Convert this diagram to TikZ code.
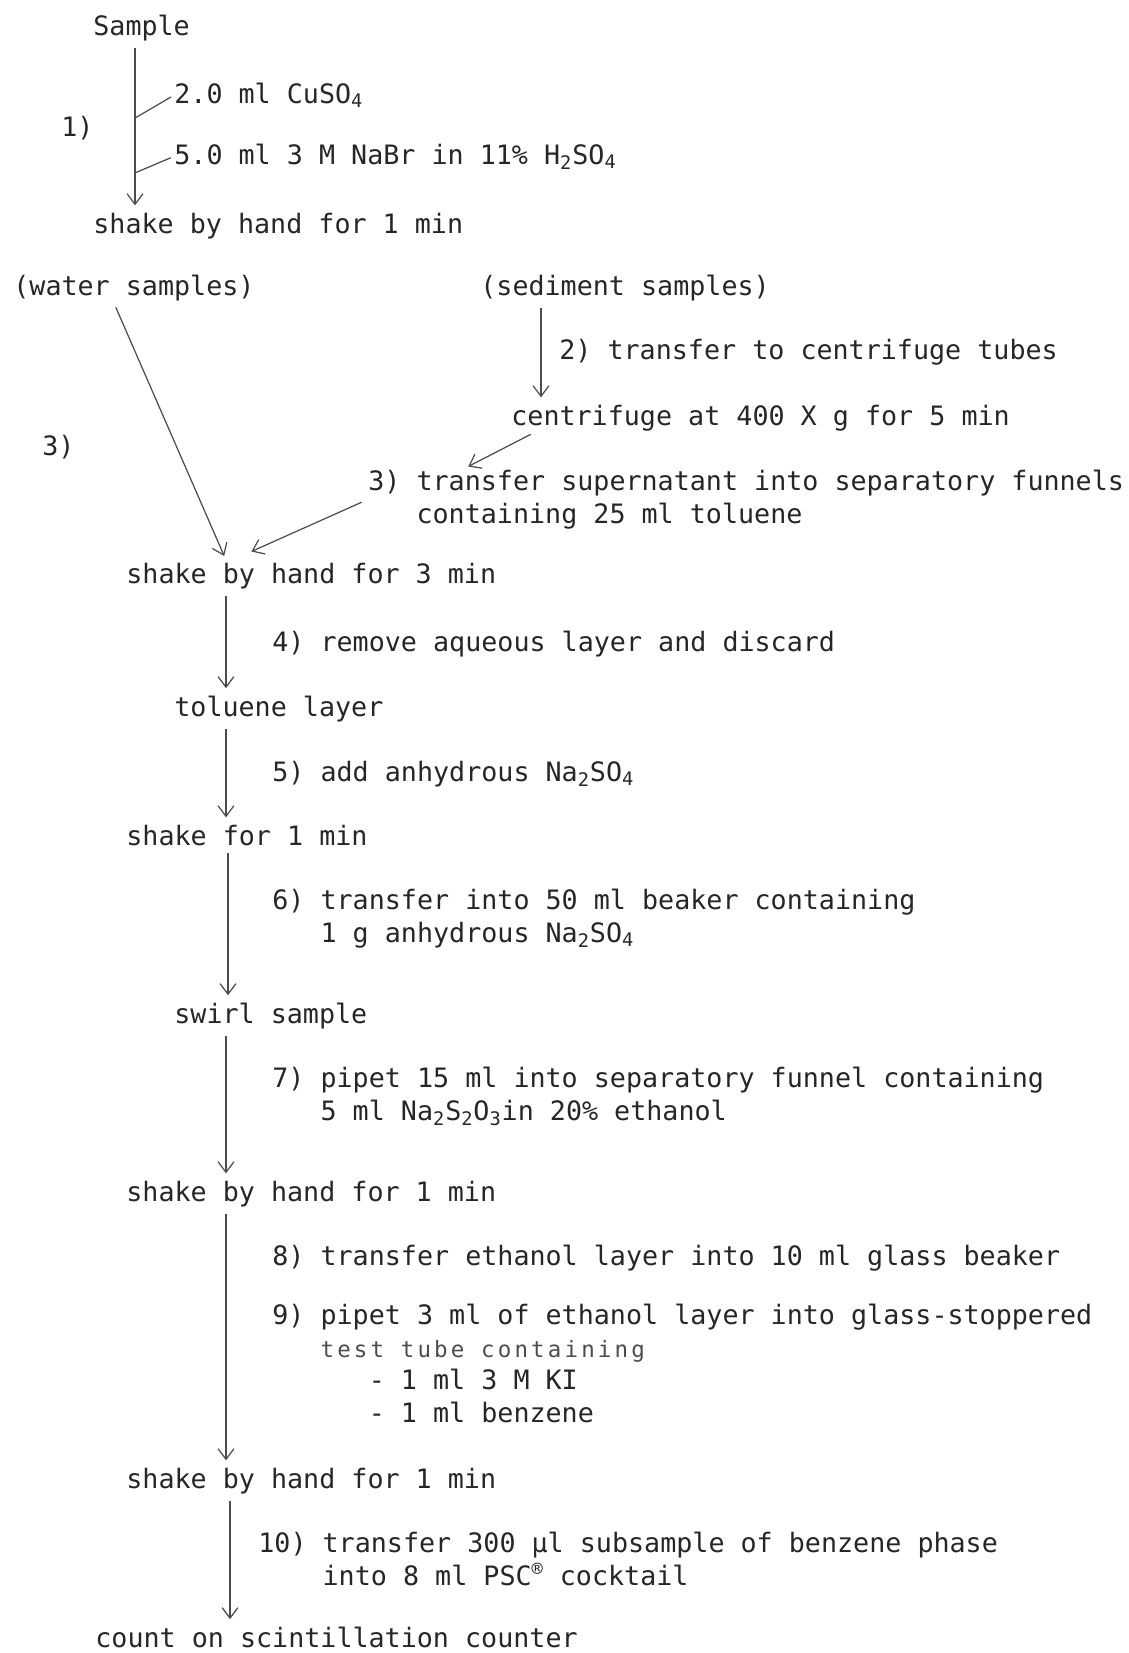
\documentclass[tikz,border=0pt]{standalone}
\usepackage{fontspec}
\setmainfont{DejaVu Sans Mono}
\usetikzlibrary{arrows.meta,calc}

\begin{document}
\begin{tikzpicture}[x=0.02cm, y=-0.02cm,
    txt/.style={anchor=base west, inner sep=0pt, align=left, text=black!85,
                font=\fontsize{15.2}{18.5}\selectfont},
    flow/.style={-{Straight Barb[length=6pt,width=9pt]}, line width=0.7pt, draw=black!70,
                 shorten <=4pt, shorten >=4pt},
    branch/.style={line width=0.7pt, draw=black!70, shorten <=2pt}]
  \useasboundingbox (0,0) rectangle (1129,1653);

  % step 1
  \node[txt] (sample) at (93,35) {Sample};
  \node[txt] (cuso) at (174,103) {2.0 ml CuSO\textsubscript{4}};
  \node[txt] (one) at (61,136) {1)};
  \node[txt] (nabr) at (174,164) {5.0 ml 3 M NaBr in 11\% H\textsubscript{2}SO\textsubscript{4}};
  \node[txt] (shakeA) at (93,233) {shake by hand for 1 min};

  % water and sediment samples
  \node[txt] (water) at (13,295) {(water samples)};
  \node[txt] (sediment) at (480,295) {(sediment samples)};
  \node[txt] (tubes) at (559,359) {2) transfer to centrifuge tubes};
  \node[txt] (centri) at (511,425) {centrifuge at 400 X g for 5 min};
  \node[txt] (three) at (42,455) {3)};
  % multi-line nodes sit on the baseline of their last line
  \node[txt] (super) at (368,523) {3) transfer supernatant into separatory funnels\\
    \hphantom{3) }containing 25 ml toluene};

  % extraction
  \node[txt] (shakeB) at (126,583) {shake by hand for 3 min};
  \node[txt] (aqueous) at (272,651) {4) remove aqueous layer and discard};
  \node[txt] (toluene) at (174,716) {toluene layer};
  \node[txt] (drying) at (272,781) {5) add anhydrous Na\textsubscript{2}SO\textsubscript{4}};
  \node[txt] (shakeC) at (126,845) {shake for 1 min};
  \node[txt] (beaker) at (272,942) {6) transfer into 50 ml beaker containing\\
    \hphantom{6) }1 g anhydrous Na\textsubscript{2}SO\textsubscript{4}};
  \node[txt] (swirl) at (174,1023) {swirl sample};
  \node[txt] (pipet) at (272,1120) {7) pipet 15 ml into separatory funnel containing\\
    \hphantom{7) }5 ml Na\textsubscript{2}S\textsubscript{2}O\textsubscript{3}in 20\% ethanol};
  \node[txt] (shakeD) at (126,1201) {shake by hand for 1 min};
  \node[txt] (ethanol) at (272,1265) {8) transfer ethanol layer into 10 ml glass beaker};
  \node[txt] (tube) at (272,1422) {9) pipet 3 ml of ethanol layer into glass-stoppered\\
    \hphantom{9) }{\addfontfeature{LetterSpace=14}\fontsize{12.8}{18.5}\selectfont\color{black!70}test tube containing}\\
    \hphantom{9) pip}- 1 ml 3 M KI\\
    \hphantom{9) pip}- 1 ml benzene};
  \node[txt] (shakeE) at (126,1488) {shake by hand for 1 min};
  \node[txt] (counting) at (258,1585) {10) transfer 300 μl subsample of benzene phase\\
    \hphantom{10) }into 8 ml PSC\textsuperscript{®} cocktail};
  \node[txt] (count) at (95,1647) {count on scintillation counter};

  % connectors
  \draw[flow] (sample.south -| 135,0) -- coordinate[pos=0.45] (jA) coordinate[pos=0.77] (jB) (shakeA.north -| 135,0);
  \draw[branch] (cuso.west) -- (jA);
  \draw[branch] (nabr.west) -- (jB);
  \draw[flow] (sediment.south -| 541,0) -- (centri.north -| 541,0);
  \draw[flow] (water.south -| 113,0) -- (shakeB.north -| 227,0);
  \draw[flow] (centri.south -| 537,0) -- (super.north -| 462,0);
  \draw[flow] (super.west) -- ($(shakeB.north -| 245,0)+(0,-8)$);
  \draw[flow] (shakeB.south -| 226,0) -- (toluene.north -| 226,0);
  \draw[flow] (toluene.south -| 226,0) -- (shakeC.north -| 226,0);
  \draw[flow] (shakeC.south -| 228,0) -- (swirl.north -| 228,0);
  \draw[flow] (swirl.south -| 226,0) -- (shakeD.north -| 226,0);
  \draw[flow] (shakeD.south -| 226,0) -- (shakeE.north -| 226,0);
  \draw[flow] (shakeE.south -| 230,0) -- (count.north -| 230,0);
\end{tikzpicture}
\end{document}
